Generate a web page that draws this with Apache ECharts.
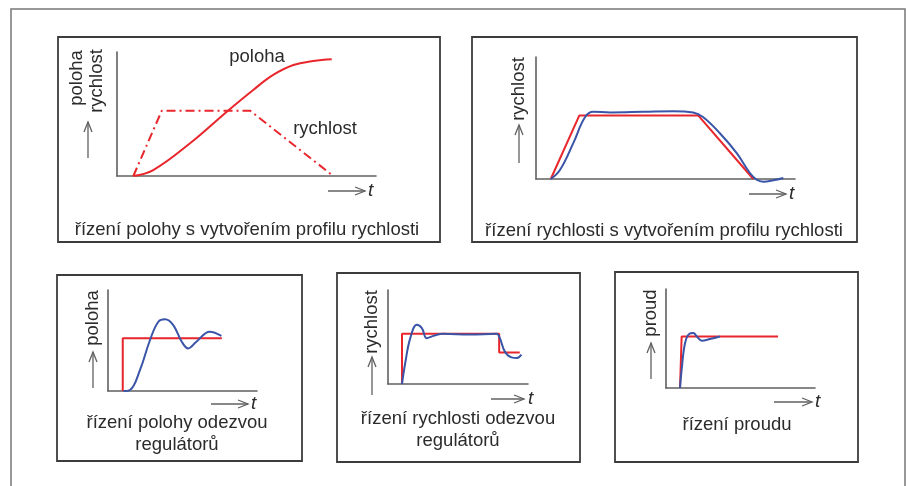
<!DOCTYPE html>
<html>
<head>
<meta charset="utf-8">
<script src="https://cdn.jsdelivr.net/npm/echarts@6/dist/echarts.min.js"></script>
<style>
  html, body { margin: 0; padding: 0; background: #fff; }
  #chart { width: 906px; height: 486px; }
</style>
</head>
<body>
<div id="chart"></div>
<script>
// panel 1: poloha + rychlost profile (t 0..100, value 0..100)
const p1Poloha = [[6.3, 0], [14, 4.8], [28.2, 26.4], [42.4, 51.9], [52.6, 69.4], [60.3, 81.5], [68.1, 89.5], [75.8, 92.7], [82.9, 94.1]];
const p1Rychlost = [[6.3, 0], [17.3, 52.7], [51.4, 52.7], [83.5, 0]];
// panel 2: rychlost profile, setpoint vs response
const p2Setpoint = [[5.7, 0], [16.7, 52], [62.7, 52], [83.9, 0]];
const p2Response = [[5.7, 0], [9.3, 7.6], [14.4, 29.4], [18.9, 50.6], [22.1, 55.1], [28.6, 54.6], [41.4, 55.1], [53, 55.6], [60.7, 54.6], [64.6, 50.6], [71, 37.5], [77.5, 21.2], [82.6, 4.9], [85.2, -0.6], [87.8, -2.2], [91.6, -1.1], [95.5, 0.8]];
// panel 3: poloha step
const p3Setpoint = [[9.9, 0], [9.9, 52.2], [76.4, 52.2]];
const p3Response = [[10.3, 0], [14.8, 1], [21.5, 20.8], [28.2, 50.5], [33.8, 68.6], [38.3, 71], [43.8, 65.3], [49.5, 48.8], [53.8, 42.2], [59.3, 48.8], [68.3, 58.7], [76.1, 54.5]];
// panel 4: rychlost step
const p4Setpoint = [[10, 0], [10, 53.4], [79.4, 53.4], [79.4, 33.6], [94.1, 33.6]];
const p4Response = [[10, 0], [12.3, 22.3], [15.9, 48.8], [20.6, 62.9], [24.2, 59.4], [27.7, 48.8], [32.4, 51.2], [39.5, 53.4], [58.5, 52.6], [77.5, 53.4], [79.9, 48.8], [83.4, 34.7], [88.2, 28.3], [92.2, 27.7], [95.3, 31.2]];
// panel 5: proud step
const p5Setpoint = [[9.4, 0], [10.5, 52.1], [75.2, 52.1]];
const p5Response = [[9.4, 0], [10.5, 18.5], [12.8, 45.4], [15.7, 54.8], [18.3, 55.5], [21, 51.5], [24, 47.8], [29.5, 49.5], [36.2, 52.1]];

const yNames = ['poloha', 'rychlost', 'rychlost', 'poloha', 'rychlost', 'proud'];
const captions = [
  'řízení polohy s vytvořením profilu rychlosti',
  'řízení rychlosti s vytvořením profilu rychlosti',
  'řízení polohy odezvou\nregulátorů',
  'řízení rychlosti odezvou\nregulátorů',
  'řízení proudu'
];

const RED = '#e8262c';
const BLUE = '#3a55a8';
const AXIS = '#606060';
const BOX = '#3c3c3c';
const TXT = '#2b2b2b';
const FONT = '"Liberation Sans", Arial, sans-serif';

const grids = [
  {left: 117, top: 52, width: 259, height: 124},
  {left: 536, top: 57, width: 259, height: 122},
  {left: 108, top: 290, width: 149, height: 101},
  {left: 388, top: 290, width: 140, height: 94},
  {left: 666, top: 289, width: 149, height: 99}
];

const chart = echarts.init(document.getElementById('chart'));

const axisLine = {show: true, onZero: false, lineStyle: {color: AXIS, width: 1.6}};
const xAxes = grids.map((g, i) => ({
  type: 'value', gridIndex: i, min: 0, max: 100,
  axisLine: axisLine, axisTick: {show: false}, axisLabel: {show: false}, splitLine: {show: false}
}));
const yAxes = grids.map((g, i) => ({
  type: 'value', gridIndex: i, min: 0, max: 100,
  axisLine: axisLine, axisTick: {show: false}, axisLabel: {show: false}, splitLine: {show: false}
}));

const line = (idx, data, color, extra) => Object.assign({
  type: 'line', xAxisIndex: idx, yAxisIndex: idx, data: data,
  showSymbol: false, clip: false, silent: true,
  lineStyle: {color: color, width: 2}
}, extra || {});

const series = [
  line(0, p1Poloha, RED, {smooth: 0.4}),
  line(0, p1Rychlost, RED, {lineStyle: {color: RED, width: 2, type: [9, 4, 2, 4]}}),
  line(1, p2Setpoint, RED),
  line(1, p2Response, BLUE, {smooth: 0.4}),
  line(2, p3Setpoint, RED),
  line(2, p3Response, BLUE, {smooth: 0.4}),
  line(3, p4Setpoint, RED),
  line(3, p4Response, BLUE, {smooth: 0.4}),
  line(4, p5Setpoint, RED),
  line(4, p5Response, BLUE, {smooth: 0.4})
];

// decorations
const stroke = {stroke: AXIS, lineWidth: 1.3, fill: null};
function arrowRight(x1, x2, y) {
  return [
    {type: 'polyline', shape: {points: [[x1, y], [x2, y]]}, style: stroke},
    {type: 'polyline', shape: {points: [[x2 - 10, y - 4], [x2, y], [x2 - 10, y + 4]]}, style: stroke}
  ];
}
function arrowUp(x, y1, y2) {
  return [
    {type: 'polyline', shape: {points: [[x, y1], [x, y2]]}, style: stroke},
    {type: 'polyline', shape: {points: [[x - 4, y2 + 10], [x, y2], [x + 4, y2 + 10]]}, style: stroke}
  ];
}
function vtext(str, x, y) {
  return {type: 'text', x: x, y: y, rotation: Math.PI / 2,
    style: {text: str, x: 0, y: 0, align: 'center', verticalAlign: 'middle', font: '18.5px ' + FONT, fill: TXT}};
}
function htext(str, x, y, opt) {
  return {type: 'text', x: x, y: y,
    style: Object.assign({text: str, align: 'center', verticalAlign: 'middle', font: '18.5px ' + FONT, fill: TXT, lineHeight: 22}, opt || {})};
}
function box(x, y, w, h) {
  return {type: 'rect', shape: {x: x, y: y, width: w, height: h}, style: {stroke: BOX, lineWidth: 1.8, fill: null}};
}
const tItalic = {font: 'italic 19px ' + FONT, align: 'left'};

let graphic = [
  {type: 'polyline', shape: {points: [[11, 490], [11, 9], [905, 9], [905, 490]]}, style: {stroke: '#777', lineWidth: 1.5, fill: null}},
  box(58, 37, 382, 205),
  box(472, 37, 385, 205),
  box(57, 275, 245, 186),
  box(337, 273, 243, 189),
  box(615, 272, 243, 190),
  // panel 1
  vtext(yNames[0], 77, 78), vtext(yNames[1], 97, 81),
  htext('poloha', 257, 57), htext('rychlost', 325, 129),
  htext(captions[0], 247, 230),
  htext('t', 368, 191, tItalic),
  // panel 2
  vtext(yNames[2], 519, 89),
  htext(captions[1], 664, 231),
  htext('t', 789, 194, tItalic),
  // panel 3
  vtext(yNames[3], 93, 318),
  htext(captions[2], 177, 434),
  htext('t', 251, 404, tItalic),
  // panel 4
  vtext(yNames[4], 372, 322),
  htext(captions[3], 458, 430),
  htext('t', 528, 399, tItalic),
  // panel 5
  vtext(yNames[5], 651, 313),
  htext(captions[4], 737, 425),
  htext('t', 815, 402, tItalic)
];
graphic = graphic
  .concat(arrowUp(88, 158, 122), arrowRight(328, 365, 191))
  .concat(arrowUp(519, 163, 125), arrowRight(749, 786, 194))
  .concat(arrowUp(93, 388, 352), arrowRight(211, 248, 404))
  .concat(arrowUp(372, 395, 357), arrowRight(491, 524, 399))
  .concat(arrowUp(651, 379, 343), arrowRight(774, 812, 402));

chart.setOption({
  animation: false,
  backgroundColor: '#fff',
  grid: grids,
  xAxis: xAxes,
  yAxis: yAxes,
  series: series,
  graphic: {elements: graphic}
});
</script>
</body>
</html>
